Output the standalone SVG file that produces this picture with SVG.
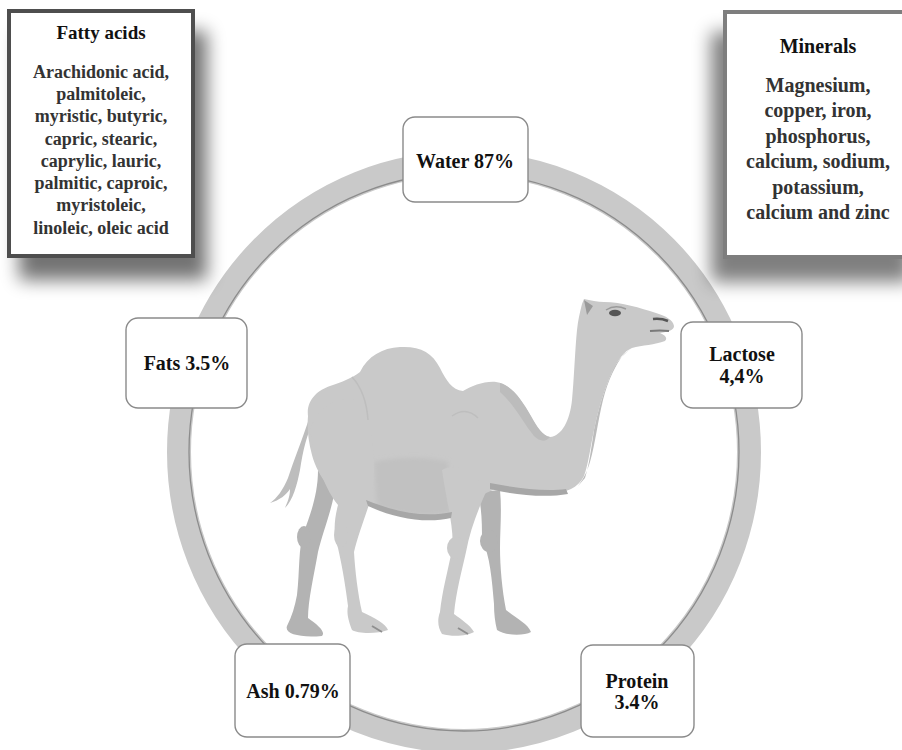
<svg xmlns="http://www.w3.org/2000/svg" width="902" height="750" viewBox="0 0 902 750">
  <defs>
    <filter id="boxShadow" x="-30%" y="-30%" width="160%" height="160%">
      <feGaussianBlur stdDeviation="9"/>
    </filter>
    <filter id="soft" x="-10%" y="-10%" width="120%" height="120%">
      <feGaussianBlur stdDeviation="2"/>
    </filter>
    <style>
      .lbl { font-family: "Liberation Serif", "Times New Roman", serif; font-weight: bold; font-size: 20px; fill: #111; text-anchor: middle; }
      .head { font-family: "Liberation Serif", "Times New Roman", serif; font-weight: bold; font-size: 19px; fill: #111; text-anchor: middle; }
      .list { font-family: "Liberation Serif", "Times New Roman", serif; font-weight: bold; font-size: 18px; fill: #333; text-anchor: middle; }
      .list2 { font-family: "Liberation Serif", "Times New Roman", serif; font-weight: bold; font-size: 20px; fill: #333; text-anchor: middle; }
      .card { fill: #fff; stroke: #8a8a8a; stroke-width: 1.4; }
      .body { fill: #c9c9c9; }
      .far { fill: #b3b3b3; }
      .shade { fill: #bcbcbc; }
      .band { fill: #a7a7a7; }
    </style>
  </defs>

  <rect width="902" height="750" fill="#fff"/>

  <!-- ring around the camel -->
  <g id="ring">
    <ellipse cx="464" cy="452" rx="285" ry="289" fill="none" stroke="#c9c9c9" stroke-width="24"/>
    <ellipse cx="464" cy="452" rx="275" ry="279" fill="none" stroke="#8c8c8c" stroke-width="1.3"/>
  </g>

  <!-- camel -->
  <g id="camel">
    <!-- far legs -->
    <path class="far" d="M318 470 C318 495 310 515 304 532 C298 548 300 570 297 595 C295 606 292 616 287 626 C284 634 300 638 322 636 C326 632 318 625 308 618 C308 600 314 575 318 552 C322 535 330 515 334 495 Z"/>
    <path class="far" d="M478 492 C482 510 482 525 482 540 C490 555 492 580 494 604 C494 614 495 622 497 630 C506 636 524 636 531 632 C528 624 516 618 506 610 C502 590 500 566 500 548 C500 530 502 510 500 490 Z"/>
    <ellipse class="far" cx="489" cy="541" rx="9" ry="11"/>
    <ellipse class="far" cx="304" cy="537" rx="7" ry="11"/>
    <!-- tail -->
    <path fill="#bdbdbd" d="M310 416 C302 440 294 460 288 478 C283 490 277 498 270 503 C280 500 286 495 290 489 C290 497 287 503 285 508 C293 500 297 485 300 470 C303 450 307 434 314 420 Z"/>
    <!-- body, neck and head -->
    <path class="body" d="M308 416 C306 400 318 390 330 386 C342 382 352 378 360 372 C368 356 382 348 400 347 C420 346 432 352 440 368 C446 380 452 390 463 391 C472 386 484 381 496 382 C510 384 520 398 530 415 C536 426 542 436 550 437 C562 436 570 420 572 400 C574 380 575 350 577 330 C578 320 580 312 582 304 L584 299 C590 300 598 302 604 302 C622 302 640 308 656 313 C666 316 673 320 674 326 C674 330 668 332 660 333 C665 335 668 338 665 341 C655 345 642 345 632 348 C624 351 618 360 612 372 C604 390 598 410 594 430 C590 450 588 465 584 476 C578 488 566 493 552 493 C530 493 510 489 495 489 C480 495 465 505 450 515 C430 520 400 516 375 507 C360 502 352 500 345 505 C335 495 318 478 312 455 C308 440 307 428 308 416 Z"/>
    <!-- darker belly patch -->
    <path fill="#c1c1c1" filter="url(#soft)" d="M374 462 C400 456 430 457 448 462 L451 512 C430 518 400 515 377 506 Z"/>
    <!-- near hind leg -->
    <path class="body" d="M310 430 C316 465 326 490 338 505 C334 520 333 535 338 548 C343 570 346 590 348 606 C346 615 350 624 352 630 C358 634 378 634 388 630 C386 624 375 618 362 612 C358 595 355 570 354 552 C358 535 366 515 372 495 C376 470 374 440 366 405 C350 392 320 400 310 430 Z"/>
    <ellipse class="body" cx="341" cy="535" rx="7" ry="12"/>
    <!-- near front leg -->
    <path class="body" d="M442 470 C446 500 455 530 452 550 C448 570 442 592 440 612 C437 620 438 628 442 634 C452 637 468 636 474 632 C470 625 462 620 454 614 C456 592 462 570 466 552 C470 530 478 510 486 492 C475 470 455 462 442 470 Z"/>
    <ellipse class="body" cx="456" cy="548" rx="9" ry="11"/>
    <!-- belly and chest edges -->
    <path class="band" d="M366 500 C395 512 425 518 452 512 L451 518 C425 524 394 518 368 506 Z"/>
    <path class="band" d="M490 483 C515 488 545 492 566 489 L568 494 C545 498 515 495 490 489 Z"/>
    <!-- neck shading -->
    <path class="shade" d="M624 354 C616 364 608 380 603 400 C598 420 595 445 590 462 C587 472 584 478 578 486 L585 478 C589 466 591 450 594 430 C598 410 604 390 612 372 C616 363 620 357 632 348 Z"/>
    <path class="shade" d="M500 383 C512 386 522 400 531 416 C537 427 543 436 550 437 C546 442 540 442 534 436 C524 424 514 404 500 392 Z"/>
    <!-- hoof splits -->
    <path d="M372 626 L382 632" stroke="#8f8f8f" stroke-width="2"/>
    <path d="M458 628 L468 634" stroke="#8f8f8f" stroke-width="2"/>
    <!-- soft fold lines -->
    <path d="M352 377 Q366 392 368 420" fill="none" stroke="#bebebe" stroke-width="1.5"/>
    <path d="M452 416 Q466 406 478 418" fill="none" stroke="#bebebe" stroke-width="1.5"/>
    <!-- face details -->
    <path d="M584 300 L593 306 L587 315 Z" fill="#9a9a9a"/>
    <path d="M606 310 Q615 304 626 309" fill="none" stroke="#9a9a9a" stroke-width="1.5"/>
    <ellipse cx="615" cy="313" rx="6" ry="3.3" fill="#555"/>
    <path d="M653 319 Q661 318 668 321" fill="none" stroke="#555" stroke-width="2.5"/>
    <path d="M650 331 Q660 330 669 331" fill="none" stroke="#7a7a7a" stroke-width="2"/>
  </g>

  <!-- side panels -->
  <g id="fatty-acids">
    <rect x="19" y="31" width="188" height="249" fill="#000" opacity="0.55" filter="url(#boxShadow)"/>
    <rect x="9" y="11" width="184" height="245" fill="#fff" stroke="#4e4e4e" stroke-width="4"/>
    <text class="head" x="101" y="39">Fatty acids</text>
    <text class="list" x="101" y="78">Arachidonic acid,</text>
    <text class="list" x="101" y="100">palmitoleic,</text>
    <text class="list" x="101" y="122">myristic, butyric,</text>
    <text class="list" x="101" y="145">capric, stearic,</text>
    <text class="list" x="101" y="167">caprylic, lauric,</text>
    <text class="list" x="101" y="189">palmitic, caproic,</text>
    <text class="list" x="101" y="211">myristoleic,</text>
    <text class="list" x="101" y="234">linoleic, oleic acid</text>
  </g>

  <g id="minerals">
    <rect x="711" y="32" width="200" height="250" fill="#000" opacity="0.5" filter="url(#boxShadow)"/>
    <rect x="725" y="12" width="190" height="245" fill="#fff" stroke="#7e7e7e" stroke-width="4"/>
    <text class="head" x="818" y="53" style="font-size:20px">Minerals</text>
    <text class="list2" x="818" y="92">Magnesium,</text>
    <text class="list2" x="818" y="117">copper, iron,</text>
    <text class="list2" x="818" y="143">phosphorus,</text>
    <text class="list2" x="818" y="168">calcium, sodium,</text>
    <text class="list2" x="818" y="194">potassium,</text>
    <text class="list2" x="818" y="219">calcium and zinc</text>
  </g>

  <!-- composition cards -->
  <g id="water">
    <rect class="card" x="403" y="117" width="125" height="85" rx="12"/>
    <text class="lbl" x="465" y="168">Water 87%</text>
  </g>
  <g id="fats">
    <rect class="card" x="126" y="318" width="121" height="90" rx="12"/>
    <text class="lbl" x="187" y="370">Fats 3.5%</text>
  </g>
  <g id="lactose">
    <rect class="card" x="681" y="322" width="121" height="86" rx="12"/>
    <text class="lbl" x="742" y="361">Lactose</text>
    <text class="lbl" x="742" y="383">4,4%</text>
  </g>
  <g id="ash">
    <rect class="card" x="235" y="644" width="115" height="93" rx="12"/>
    <text class="lbl" x="293" y="698">Ash 0.79%</text>
  </g>
  <g id="protein">
    <rect class="card" x="581" y="645" width="113" height="92" rx="12"/>
    <text class="lbl" x="637" y="688">Protein</text>
    <text class="lbl" x="637" y="709">3.4%</text>
  </g>
</svg>
